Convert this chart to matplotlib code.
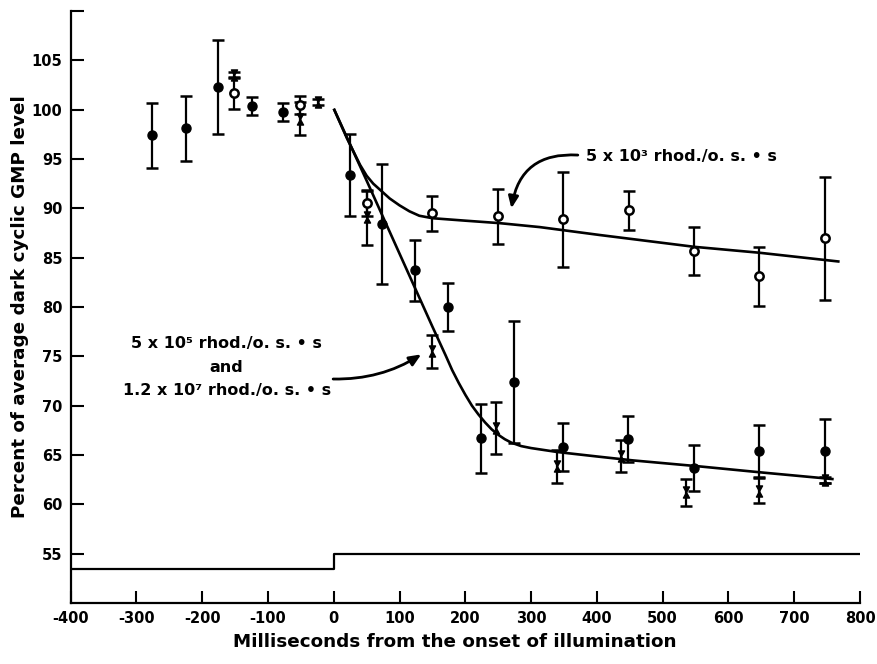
import numpy as np
import matplotlib
matplotlib.use("Agg")
import matplotlib.pyplot as plt
from matplotlib.path import Path

plt.rcParams['font.family'] = ['DejaVu Sans']
plt.rcParams['font.weight'] = 'bold'
plt.rcParams['axes.unicode_minus'] = False

# ---------------- data ----------------
# filled circles (5x10^5 rhod./o.s.*s)
filled_x = [-276, -225, -176, -124, -77, 24.5, 74, 123, 174, 223.6, 274, 348.6, 448, 547, 647, 747.4]
filled_y = [97.4, 98.1, 102.3, 100.4, 99.8, 93.4, 88.4, 83.7, 80.0, 66.7, 72.4, 65.8, 66.65, 63.7, 65.4, 65.4]
filled_err = [3.3, 3.3, 4.8, 0.9, 0.9, 4.15, 6.1, 3.1, 2.45, 3.5, 6.2, 2.45, 2.35, 2.3, 2.6, 3.2]

# open circles (5x10^3 rhod./o.s.*s)
open_x = [-151, -51.5, 50, 149, 249, 348.6, 448.5, 547.7, 647, 747.4]
open_y = [101.7, 100.5, 90.5, 89.5, 89.2, 88.9, 89.8, 85.7, 83.1, 86.95]
open_err = [1.6, 0.9, 1.3, 1.75, 2.8, 4.8, 2.0, 2.45, 2.95, 6.2]

# hourglass markers (1.2x10^7 rhod./o.s.*s)
hg_x = [-151, -51.5, -24, 50, 148.6, 247, 338.6, 436.8, 536, 647, 747.4]
hg_y = [103.5, 99.1, 100.8, 89.1, 75.5, 67.7, 63.85, 64.9, 61.2, 61.4, 62.5]
hg_err = [0.3, 1.7, 0.3, 2.8, 1.65, 2.65, 1.7, 1.65, 1.4, 1.25, 0.3]

# fitted curves
steep_x = [0, 50, 100, 150, 170, 180, 190, 200, 210, 220, 230, 240, 250, 260, 270,
           285, 300, 320, 340, 400, 455, 555, 655, 760]
steep_y = [100.1, 92.8, 85.4, 78.0, 75.1, 73.6, 72.3, 71.1, 70.0, 69.1, 68.3, 67.6, 67.05,
           66.6, 66.25, 65.9, 65.7, 65.5, 65.3, 64.85, 64.45, 63.85, 63.2, 62.55]
slow_x = [0, 20, 40, 50, 60, 70, 85, 100, 115, 130, 150, 200, 252, 313, 404, 548, 647, 769]
slow_y = [100.1, 97.1, 94.4, 93.3, 92.5, 91.9, 91.0, 90.3, 89.7, 89.25, 89.0, 88.75, 88.5,
          88.1, 87.3, 86.1, 85.5, 84.6]

# stimulus trace
stim_x = [-400, 0, 0, 800]
stim_y = [53.4, 53.4, 55.0, 55.0]

xticks = list(range(-400, 801, 100))
xtick_labels = [str(v) for v in xticks]
yticks = [55, 60, 65, 70, 75, 80, 85, 90, 95, 100, 105, 110]
ytick_labels = ['55', '60', '65', '70', '75', '80', '85', '90', '95', '100', '105', '']

label_5e3 = "5 x 10³ rhod./o. s. • s"
label_5e5 = "5 x 10⁵ rhod./o. s. • s\nand\n1.2 x 10⁷ rhod./o. s. • s"

# ---------------- plot ----------------
fig = plt.figure(figsize=(8.78, 6.64), dpi=100)
ax = fig.add_axes([0.0805, 0.0919, 0.899, 0.8915])

ax.plot(steep_x, steep_y, color='black', lw=1.9, zorder=2, solid_capstyle='butt')
ax.plot(slow_x, slow_y, color='black', lw=1.9, zorder=2, solid_capstyle='butt')
ax.plot(stim_x, stim_y, color='black', lw=1.6, zorder=2)

hourglass = Path([(-0.55, 1), (0.55, 1), (-0.55, -1), (0.55, -1), (-0.55, 1)],
                 [Path.MOVETO, Path.LINETO, Path.LINETO, Path.LINETO, Path.CLOSEPOLY])

ekw = dict(ecolor='black', elinewidth=1.6, capsize=4, capthick=1.8, linestyle='none')
ax.errorbar(hg_x, hg_y, yerr=hg_err, marker=hourglass, ms=8, mfc='black', mec='black',
            zorder=3, **ekw)
ax.errorbar(filled_x, filled_y, yerr=filled_err, marker='o', ms=6.5, mfc='black',
            mec='black', zorder=4, **ekw)
ax.errorbar(open_x, open_y, yerr=open_err, marker='o', ms=6, mfc='white', mec='black',
            mew=1.8, zorder=5, **ekw)

ax.set_xlim(-400, 800)
ax.set_ylim(50, 110)
ax.set_xticks(xticks)
ax.set_xticklabels(xtick_labels)
ax.set_yticks(yticks)
ax.set_yticklabels(ytick_labels)
ax.tick_params(direction='in', length=9, width=1.5, labelsize=10.5, pad=6)
for s in ['top', 'right']:
    ax.spines[s].set_visible(False)
for s in ['left', 'bottom']:
    ax.spines[s].set_linewidth(1.6)

ax.set_xlabel("Milliseconds from the onset of illumination", fontsize=13.2, fontweight='bold')
ax.xaxis.set_label_coords(0.487, -0.05)
ax.set_ylabel("Percent of average dark cyclic GMP level", fontsize=13.2, fontweight='bold')
ax.yaxis.set_label_coords(-0.053, 0.5)

ax.text(384, 95.3, label_5e3, fontsize=11.5, ha='left', va='center', fontweight='bold')
ax.text(-163, 73.9, label_5e5, fontsize=11.5, ha='center', va='center', fontweight='bold',
        multialignment='center', linespacing=1.7)

arrow = dict(arrowstyle='-|>,head_length=0.7,head_width=0.3', color='black', lw=2,
             shrinkA=0, shrinkB=0)
ax.annotate('', xy=(270, 90.0), xytext=(371, 95.4),
            arrowprops=dict(connectionstyle='arc3,rad=0.45', **arrow))
ax.annotate('', xy=(133, 75.2), xytext=(-1, 72.7),
            arrowprops=dict(connectionstyle='arc3,rad=0.15', **arrow))

fig.savefig('out.png', dpi=100)
